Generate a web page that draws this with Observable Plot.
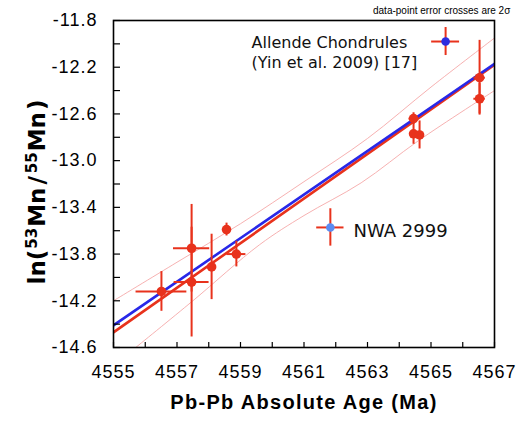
<!DOCTYPE html>
<html><head><meta charset="utf-8">
<script src="https://cdn.jsdelivr.net/npm/d3@7"></script>
<script src="https://cdn.jsdelivr.net/npm/@observablehq/plot@0.6"></script>
<style>
body{margin:0;background:#fff;}
#chart{position:relative;width:518px;height:423px;}
.note{position:absolute;left:373px;top:5px;font:10px "Liberation Sans",Arial,sans-serif;color:#000;white-space:nowrap;}
</style></head><body><div id="chart"><div class="note">data-point error crosses are 2σ</div></div>
<script>
// Data points (Pb-Pb age, ln(53Mn/55Mn)) with 2σ errors
const ages     = [4556.51, 4557.46, 4557.46, 4558.09, 4558.56, 4558.87, 4564.45, 4564.45, 4564.64, 4566.53, 4566.53];
const lnRatios = [-14.12, -13.75, -14.04, -13.91, -13.59, -13.80, -12.64, -12.77, -12.78, -12.29, -12.47];
const ageErrs  = [0.80, 0.57, 0.55, 0, 0, 0.30, 0.14, 0, 0, 0.18, 0.18];
const lnErrs   = [0.17, 0.375, 0.47, 0.28, 0.055, 0.11, 0.05, 0.09, 0.12, 0.32, 0.13];

// Regression lines
const fitAges = [4555, 4567];
const blueFit = [-14.41, -12.17];
const redFit  = [-14.47, -12.18];

// Error envelope
const upperAges = [4555, 4557, 4559, 4561, 4563, 4565, 4567];
const upperVals = [-14.20, -13.87, -13.54, -13.18, -12.81, -12.37, -11.95];
const lowerAges = [4555.7, 4557.5, 4559.6, 4561, 4562.8, 4564.6, 4567];
const lowerVals = [-14.60, -14.20, -13.72, -13.47, -13.19, -12.83, -12.40];

// Legend entries (anchored in data space)
const legendLabels = ["Allende Chondrules\n(Yin et al. 2009) [17]", "NWA 2999"];
const legendAges   = [4565.46, 4561.83];
const legendVals   = [-11.98, -13.572];
const legendAgeErr = [0.44, 0.43];
const legendValErr = [0.12, 0.16];
const legendDotColors = ["#2c2ce0", "#5a8cf2"];
const legendTextAges = [4559.35, 4562.56];
const legendTextVals = [-11.915, -13.658];

// Ticks
const xLabelTicks = [4555, 4557, 4559, 4561, 4563, 4565, 4567];
const xMinorTicks = d3.range(4555, 4568, 1);
const yLabelTicks = [-14.6, -14.2, -13.8, -13.4, -13.0, -12.6, -12.2, -11.8];
const yMinorTicks = d3.range(0, 15).map(i => -14.6 + 0.2 * i);

const pts = ages.map((a, i) => ({age: a, v: lnRatios[i], ea: ageErrs[i], ev: lnErrs[i]}));
const upper = upperAges.map((a, i) => ({age: a, v: upperVals[i]}));
const lower = lowerAges.map((a, i) => ({age: a, v: lowerVals[i]}));
const blue = fitAges.map((a, i) => ({age: a, v: blueFit[i]}));
const red = fitAges.map((a, i) => ({age: a, v: redFit[i]}));
const leg = legendLabels.map((l, i) => ({label: l, age: legendAges[i], v: legendVals[i], ea: legendAgeErr[i], ev: legendValErr[i], c: legendDotColors[i], ta: legendTextAges[i], tv: legendTextVals[i]}));

const RED = "#e8321c";
const PINK = "#f5a8a8";
const XTITLE = "Pb-Pb Absolute Age (Ma)";

const chart = Plot.plot({
  width: 518, height: 423,
  marginLeft: 113, marginRight: 24, marginTop: 20, marginBottom: 76,
  x: {domain: [4555, 4567]},
  y: {domain: [-14.6, -11.8]},
  style: {fontFamily: "'Liberation Sans', Arial, sans-serif", fontSize: "18px", color: "#000", background: "#fff", overflow: "visible"},
  marks: [
    Plot.line(upper, {x: "age", y: "v", stroke: PINK, strokeWidth: 0.9, clip: true, curve: "catmull-rom"}),
    Plot.line(lower, {x: "age", y: "v", stroke: PINK, strokeWidth: 0.9, clip: true, curve: "catmull-rom"}),
    Plot.line(red, {x: "age", y: "v", stroke: RED, strokeWidth: 2.6, clip: true}),
    Plot.line(blue, {x: "age", y: "v", stroke: "#2828e8", strokeWidth: 2.6, clip: true}),
    Plot.ruleX(pts, {x: "age", y1: d => d.v - d.ev, y2: d => d.v + d.ev, stroke: RED, strokeWidth: 2}),
    Plot.ruleY(pts, {y: "v", x1: d => d.age - d.ea, x2: d => d.age + d.ea, stroke: RED, strokeWidth: 2}),
    Plot.dot(pts, {x: "age", y: "v", r: 4.8, fill: RED, stroke: "none"}),
    // legend
    Plot.ruleX(leg, {x: "age", y1: d => d.v - d.ev, y2: d => d.v + d.ev, stroke: RED, strokeWidth: 2}),
    Plot.ruleY(leg, {y: "v", x1: d => d.age - d.ea, x2: d => d.age + d.ea, stroke: RED, strokeWidth: 2}),
    Plot.dot(leg, {x: "age", y: "v", r: 4.3, fill: d => d.c, stroke: "none"}),
    Plot.text(leg.slice(0, 1), {x: "ta", y: "tv", text: "label", textAnchor: "start", lineAnchor: "top", lineHeight: 1.25, fontSize: 16, fontFamily: "'DejaVu Sans', Verdana, sans-serif", fill: "#111"}),
    Plot.text(leg.slice(1), {x: "ta", y: "tv", text: "label", textAnchor: "start", lineAnchor: "bottom", fontSize: 18, fontFamily: "'DejaVu Sans', Verdana, sans-serif", fill: "#111"}),
    // frame and axes
    Plot.frame({stroke: "#000", strokeWidth: 1.6}),
    Plot.axisX({ticks: xMinorTicks, tickSize: -5, tickFormat: () => "", label: null, strokeWidth: 1.2}),
    Plot.axisX({ticks: xLabelTicks, tickSize: 0, tickPadding: 18, tickFormat: d => String(d), label: null}),
    Plot.axisY({ticks: yMinorTicks, tickSize: -7, tickFormat: () => "", label: null, strokeWidth: 1.2}),
    Plot.axisY({ticks: yLabelTicks, tickSize: 0, tickPadding: 16, tickFormat: d => d.toFixed(1), label: null}),
    Plot.text([XTITLE], {frameAnchor: "bottom", text: d => d, textAnchor: "middle", lineAnchor: "bottom", dy: 61, fontSize: 20, fontWeight: "bold"}),
    Plot.text(["ln(53Mn/55Mn)"], {frameAnchor: "left", text: d => d, textAnchor: "middle", rotate: -90, lineAnchor: "middle", dx: -76, dy: 8, fontSize: 23, fontWeight: "bold", fontFamily: "'DejaVu Sans', Verdana, sans-serif"})
  ]
});

document.getElementById("chart").appendChild(chart);
const svg = d3.select(chart);
const tickLabelSet = new Set([...xLabelTicks.map(String), ...yLabelTicks.map(d => d.toFixed(1))]);
svg.selectAll("text").each(function() {
  const s = this.textContent;
  if (tickLabelSet.has(s)) this.setAttribute("letter-spacing", "1px");
  if (s === XTITLE) this.setAttribute("letter-spacing", "1.3px");
  if (s === "ln(53Mn/55Mn)") {
    const yt = d3.select(this);
    yt.text(null);
    const parts = [["ln(", 0, 0], ["53", 1, 1], ["Mn", 0, 1], ["/", 0, 3], ["55", 1, 3], ["Mn", 0, 1], [")", 0, 2]];
    let sup = false;
    for (const [p, isSup, gap] of parts) {
      const t = yt.append("tspan").text(p);
      if (gap) t.attr("dx", gap);
      if (isSup) t.attr("font-size", "15px");
      if (isSup && !sup) { t.attr("dy", "-8px"); sup = true; }
      else if (!isSup && sup) { t.attr("dy", "8px"); sup = false; }
    }
  }
});
</script></body></html>
